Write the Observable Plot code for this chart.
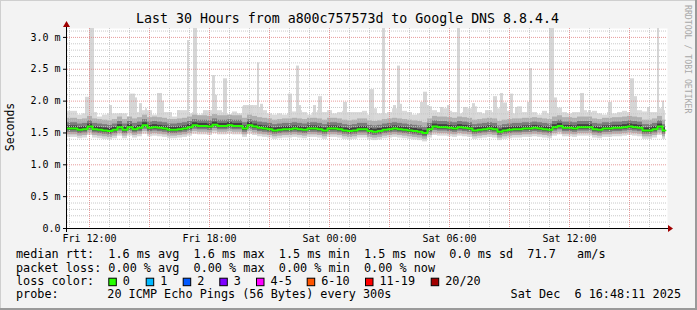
<!DOCTYPE html>
<html><head><meta charset="utf-8">
<script src="https://cdn.jsdelivr.net/npm/d3@7"></script>
<script src="https://cdn.jsdelivr.net/npm/@observablehq/plot@0.6"></script>
<style>html,body{margin:0;padding:0;background:#f3f3f3} svg{display:block}</style>
</head><body><div id="chart"></div>
<script>
// ---- data ----
const titleText = "Last 30 Hours from a800c757573d to Google DNS 8.8.4.4";
const windowStart = "Fri 10:54";
const windowEnd = "Sat 16:54";
const dataEndClock = "Sat 16:48";
const binMinutes = 15;

// median RTT (ms), one value per 15-minute bin
const medianMs = [
  1.57,1.57,1.55,1.56,1.60,1.56,1.55,1.54,1.53,1.55,1.59,1.55,1.59,1.56,1.58,1.62,1.58,1.59,1.58,1.57,1.55,1.55,1.56,1.57,1.59,1.62,1.61,1.61,1.60,1.63,
  1.61,1.61,1.62,1.61,1.61,1.57,1.62,1.60,1.58,1.57,1.56,1.54,1.55,1.56,1.56,1.57,1.56,1.55,1.57,1.57,1.56,1.54,1.57,1.57,1.56,1.54,1.53,1.54,1.56,1.56,
  1.53,1.52,1.53,1.55,1.56,1.57,1.56,1.55,1.54,1.53,1.52,1.50,1.56,1.60,1.59,1.59,1.58,1.57,1.59,1.58,1.57,1.54,1.55,1.56,1.57,1.56,1.52,1.54,1.55,1.56,
  1.56,1.57,1.57,1.58,1.57,1.56,1.55,1.59,1.61,1.58,1.58,1.57,1.59,1.59,1.59,1.56,1.55,1.57,1.57,1.58,1.58,1.59,1.60,1.59,1.58,1.54,1.54,1.56,1.60,1.54
];
// upper edge of the light smoke (ms), one value per bin
const smokeTopMs = [
  1.84,1.84,1.78,1.80,1.80,1.82,1.75,1.78,1.80,1.80,1.80,1.80,1.75,1.85,1.82,1.85,1.85,1.78,1.83,1.82,1.82,1.75,1.85,1.85,1.80,1.82,1.78,1.80,1.85,1.88,
  1.85,1.82,1.78,1.83,1.80,1.91,1.91,1.93,1.89,1.85,1.80,1.78,1.80,1.78,1.80,1.83,1.85,1.82,1.78,1.82,1.85,1.82,1.85,1.80,1.82,1.84,1.82,1.82,1.82,1.84,
  1.78,1.88,1.80,1.80,1.82,1.88,1.85,1.84,1.82,1.78,1.80,1.88,1.91,1.85,1.82,1.88,1.84,1.82,1.80,1.82,1.88,1.91,1.82,1.80,1.85,1.82,1.88,1.85,1.84,1.80,
  1.91,1.82,1.85,1.82,1.78,1.84,1.80,1.85,1.89,1.82,1.80,1.82,1.82,1.85,1.82,1.84,1.80,1.78,1.82,1.80,1.82,1.84,1.82,1.88,1.85,1.83,1.82,1.82,1.88,1.85
];
// spread of the inner smoke bands around the median (ms): [below, above]
const bandLight = [0.14];
const bandMid = [0.10, 0.16];
const bandDark = [0.06, 0.09];
const bandCore = [0.03, 0.04];

// tall ping spikes: start, end, max RTT (ms)
const spikeFrom = ["Fri 11:48","Fri 12:00","Fri 13:00","Fri 13:30","Fri 14:00","Fri 14:18","Fri 14:30","Fri 14:48","Fri 15:24","Fri 15:39","Fri 16:24","Fri 16:54","Fri 17:12","Fri 17:42","Fri 18:09","Fri 18:18","Fri 18:42","Fri 19:42","Fri 20:24","Fri 20:33","Fri 21:57","Fri 22:21","Fri 22:30","Fri 23:12","Fri 23:27","Sat 00:42","Sat 02:00","Sat 02:39","Sat 03:12","Sat 03:24","Sat 03:33","Sat 04:33","Sat 04:42","Sat 04:54","Sat 05:33","Sat 05:54","Sat 06:24","Sat 06:42","Sat 07:09","Sat 07:48","Sat 08:12","Sat 08:33","Sat 08:42","Sat 09:03","Sat 09:18","Sat 09:54","Sat 10:00","Sat 11:00","Sat 11:15","Sat 11:48","Sat 12:09","Sat 12:33","Sat 12:57","Sat 13:57","Sat 14:27","Sat 15:03","Sat 15:15","Sat 15:54","Sat 16:24","Sat 16:39"];
const spikeTo   = ["Fri 12:00","Fri 12:15","Fri 13:09","Fri 13:39","Fri 14:18","Fri 14:24","Fri 14:39","Fri 14:54","Fri 15:39","Fri 15:45","Fri 16:33","Fri 17:00","Fri 17:24","Fri 17:54","Fri 18:18","Fri 18:24","Fri 18:54","Fri 20:12","Fri 20:30","Fri 20:42","Fri 22:09","Fri 22:30","Fri 22:36","Fri 23:21","Fri 23:39","Sat 00:54","Sat 02:15","Sat 02:48","Sat 03:21","Sat 03:33","Sat 03:39","Sat 04:42","Sat 04:54","Sat 05:00","Sat 05:42","Sat 06:03","Sat 06:33","Sat 06:54","Sat 07:18","Sat 07:57","Sat 08:24","Sat 08:42","Sat 08:54","Sat 09:12","Sat 09:27","Sat 10:00","Sat 10:09","Sat 11:15","Sat 11:24","Sat 11:57","Sat 12:18","Sat 12:45","Sat 13:06","Sat 14:09","Sat 14:36","Sat 15:15","Sat 15:24","Sat 16:03","Sat 16:30","Sat 16:45"];
const spikeTop  = [2.06,3.2,1.93,1.80,2.11,2.05,1.96,1.88,2.12,2.00,1.85,2.95,3.2,1.85,2.40,2.09,2.35,1.93,2.60,1.95,2.11,2.55,1.93,1.93,2.07,1.98,2.18,3.2,1.93,2.55,1.95,1.98,2.14,1.93,1.90,1.93,3.2,1.90,1.96,1.85,2.07,2.12,1.97,2.11,1.90,1.98,2.51,3.2,2.05,1.80,1.80,2.12,1.85,1.98,1.80,2.35,2.07,1.90,3.2,2.00];

// axes
const yTickValues = [0, 0.5, 1.0, 1.5, 2.0, 2.5, 3.0];
const yTickLabels = ["0.0", "0.5 m", "1.0 m", "1.5 m", "2.0 m", "2.5 m", "3.0 m"];
const xTickClocks = ["Fri 12:00", "Fri 18:00", "Sat 00:00", "Sat 06:00", "Sat 12:00"];
const yTop = 3.14;

// footer
const footerRtt = "median rtt:  1.6 ms avg  1.6 ms max  1.5 ms min  1.5 ms now  0.0 ms sd  71.7   am/s";
const footerLoss = "packet loss: 0.00 % avg  0.00 % max  0.00 % min  0.00 % now";
const lossLabels = ["0", "1", "2", "3", "4-5", "6-10", "11-19", "20/20"];
const lossColors = ["#26ff00", "#00b8ff", "#0059ff", "#7e00ff", "#ff00ff", "#ff5500", "#ff0000", "#a10000"];
const probeText = "20 ICMP Echo Pings (56 Bytes) every 300s";
const stampText = "Sat Dec  6 16:48:11 2025";

// ---- build ----
function clock(s) {
  const [day, hm] = s.split(" ");
  const [h, m] = hm.split(":").map(Number);
  return new Date(2025, 11, day === "Fri" ? 5 : 6, h, m);
}
const t0 = clock(windowStart), t1 = clock(windowEnd), tEnd = clock(dataEndClock);
const bins = medianMs.map((m, i) => ({
  a: new Date(+t0 + i * binMinutes * 60000),
  b: new Date(Math.min(+t0 + (i + 1) * binMinutes * 60000, +tEnd)),
  m, top: smokeTopMs[i]
}));
const medianPts = bins.map(d => ({t: d.a, v: d.m})).concat([{t: tEnd, v: medianMs[medianMs.length - 1]}]);
const spikes = spikeFrom.map((s, i) => ({a: clock(s), b: clock(spikeTo[i]), top: spikeTop[i]}));

const hourGrid = d3.timeHour.range(t0, t1).filter(d => d > t0);
const minorX = hourGrid.filter(d => d.getHours() % 3 !== 0);
const majorX = hourGrid.filter(d => d.getHours() % 3 === 0);
const minorY = d3.range(1, 32).map(k => k / 10).filter(v => Math.round(v * 10) % 5 !== 0);
const majorY = [0.5, 1.0, 1.5, 2.0, 2.5, 3.0];
const xTickDates = xTickClocks.map(clock);

const W = 697, H = 310;
const plot = Plot.plot({
  width: W, height: H,
  marginLeft: 67, marginRight: 30, marginTop: 28, marginBottom: 82,
  style: {fontFamily: "'DejaVu Sans Mono', monospace", fontSize: "10px", background: "#f3f3f3", color: "#000"},
  x: {type: "time", domain: [t0, t1]},
  y: {domain: [0, yTop]},
  marks: [
    Plot.frame({fill: "white", stroke: null}),
    // smoke
    Plot.rect(bins, {x1: "a", x2: "b", y1: d => d.m - bandLight[0], y2: "top", fill: "#d9d9d9"}),
    Plot.rect(spikes, {x1: "a", x2: "b", y1: 1.6, y2: "top", fill: "#d6d6d6", clip: "frame"}),
    Plot.rect(bins, {x1: "a", x2: "b", y1: d => d.m - bandMid[0], y2: d => d.m + bandMid[1], fill: "#b0b0b0"}),
    Plot.rect(bins, {x1: "a", x2: "b", y1: d => d.m - bandDark[0], y2: d => d.m + bandDark[1], fill: "#7c7c7c"}),
    Plot.rect(bins, {x1: "a", x2: "b", y1: d => d.m - bandCore[0], y2: d => d.m + bandCore[1], fill: "#404040"}),
    // grid
    Plot.ruleX(minorX, {stroke: "#c4c4c4", strokeDasharray: "1,1", strokeOpacity: 0.9}),
    Plot.ruleY(minorY, {stroke: "#c4c4c4", strokeDasharray: "1,1", strokeOpacity: 0.9}),
    Plot.ruleX(majorX, {stroke: "#e38a8a", strokeDasharray: "1,1", strokeOpacity: 0.85}),
    Plot.ruleY(majorY, {stroke: "#e38a8a", strokeDasharray: "1,1", strokeOpacity: 0.85}),
    // median
    Plot.line(medianPts, {x: "t", y: "v", curve: "step-after", stroke: "#26ff00", strokeWidth: 2}),
    // axes
    Plot.axisY(yTickValues, {tickFormat: (d, i) => yTickLabels[i], tickSize: 4, tickPadding: 3, fontSize: 10, stroke: "#000"}),
    Plot.axisX(xTickDates, {tickFormat: (d, i) => xTickClocks[i], tickSize: 0, tickPadding: 6, fontSize: 10})
  ]
});
document.getElementById("chart").appendChild(plot);

const svg = d3.select(plot);
const xs = plot.scale("x"), ys = plot.scale("y");
const X = v => xs.apply(v), Y = v => ys.apply(v);
const y0 = Y(0), xL = X(t0), xR = X(t1);

// axis lines with arrows
svg.append("line").attr("x1", xL - 0.5).attr("x2", xL - 0.5).attr("y1", y0 + 4).attr("y2", 25).attr("stroke", "#000");
svg.append("line").attr("x1", xL - 4).attr("x2", xR + 1).attr("y1", y0 + 0.5).attr("y2", y0 + 0.5).attr("stroke", "#000");
svg.append("path").attr("d", `M${xL - 4},${27} L${xL - 0.5},${21} L${xL + 3},${27} Z`).attr("fill", "#a00000");
svg.append("path").attr("d", `M${xR + 1},${y0 - 3} L${xR + 6},${y0 + 0.5} L${xR + 1},${y0 + 4} Z`).attr("fill", "#a00000");

// border
svg.append("line").attr("x1", 0).attr("x2", W).attr("y1", 0.5).attr("y2", 0.5).attr("stroke", "#cfcfcf");
svg.append("line").attr("x1", 0.5).attr("x2", 0.5).attr("y1", 0).attr("y2", H).attr("stroke", "#cfcfcf");
svg.append("rect").attr("x", W - 2).attr("y", 0).attr("width", 2).attr("height", H).attr("fill", "#9a9a9a");
svg.append("rect").attr("x", 0).attr("y", H - 2).attr("width", W).attr("height", 2).attr("fill", "#9a9a9a");

const mono = "'DejaVu Sans Mono', monospace";
function txt(x, y, s, size, extra = {}) {
  const t = svg.append("text").attr("x", x).attr("y", y).attr("font-family", mono).attr("font-size", size)
    .attr("fill", extra.fill || "#000").attr("text-anchor", extra.anchor || "start")
    .style("white-space", "pre").attr("xml:space", "preserve").text(s);
  if (extra.transform) t.attr("transform", extra.transform);
  return t;
}
// title
txt(347.5, 23, titleText, 13.25, {anchor: "middle"});
// y label
txt(0, 0, "Seconds", 11.5, {anchor: "middle", transform: "translate(14,127) rotate(-90)"});
// watermark
txt(0, 0, "RRDTOOL / TOBI OETIKER", 8.2, {fill: "#a8a8a8", transform: "translate(685,5) rotate(90)"});
// footer
const fs = 11.8;
txt(16, 258.3, footerRtt, fs);
txt(16, 271.7, footerLoss, fs);
txt(16, 285, "loss color:", fs);
const sqX = [108.3, 145.7, 182.7, 219.3, 256, 306.7, 365, 430.7];
lossLabels.forEach((lab, i) => {
  svg.append("rect").attr("x", sqX[i] + 0.5).attr("y", 278.2).attr("width", 7.5).attr("height", 7.5)
    .attr("fill", lossColors[i]).attr("stroke", "#000").attr("stroke-width", 1);
  txt(sqX[i] + 14.5, 285, lab, fs);
});
txt(16, 298.3, "probe:", fs);
txt(107.3, 298.3, probeText, fs);
txt(681, 298.3, stampText, fs, {anchor: "end"});
</script>
</body></html>
